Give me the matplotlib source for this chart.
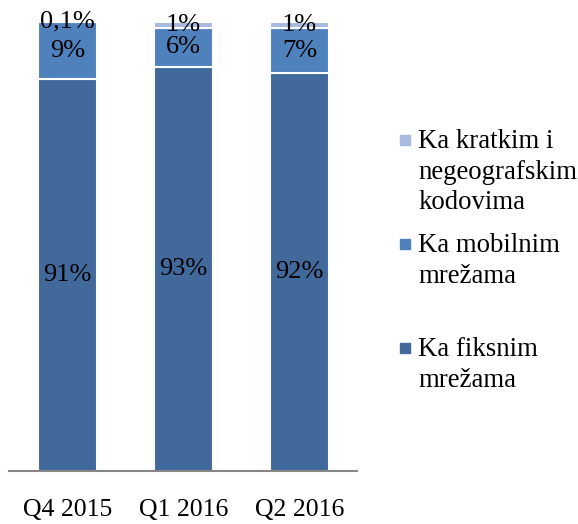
import numpy as np
import matplotlib
matplotlib.use("Agg")
from matplotlib import pyplot as plt
from matplotlib.patches import Rectangle

# podaci
kvartali = ["Q4 2015", "Q1 2016", "Q2 2016"]
fiksne = [91, 93, 92]
mobilne = [9, 6, 7]
kratki = [0.1, 1, 1]
nazivi = ["Ka fiksnim\nmrežama", "Ka mobilnim\nmrežama", "Ka kratkim i\nnegeografskim\nkodovima"]
boje = ["#41699C", "#4F81BD", "#A8BADF"]

plt.rcParams["font.family"] = ["Liberation Serif", "DejaVu Serif"]

fig = plt.figure(figsize=(5.78, 5.24), dpi=100)
ax = fig.add_axes([9 / 578, 1 - 471 / 524, 348 / 578, 450 / 524])

x = np.arange(len(kvartali))
y0 = 30
serije = [fiksne, mobilne, kratki]
dno = np.zeros(len(kvartali))
for vrijednosti, boja in zip(serije, boje):
    v = np.array(vrijednosti, dtype=float)
    ax.bar(x, v, 0.51, bottom=dno, color=boja, edgecolor="white", linewidth=1.5)
    for xi, b, h in zip(x, dno, v):
        tekst = ("%g%%" % h).replace(".", ",")
        yc = (max(b, y0) + b + h) / 2
        ax.text(xi, yc, tekst, ha="center", va="center", fontsize=19, color="black")
    dno += v

ax.set_xlim(-0.506, 2.494)
ax.set_ylim(y0, 100.1)
ax.set_yticks([])
ax.set_xticks(x)
ax.set_xticklabels(kvartali, fontsize=18.5)
ax.tick_params(axis="x", length=0, pad=20)
for s in ["top", "right", "left"]:
    ax.spines[s].set_visible(False)
ax.spines["bottom"].set_color("#868686")
ax.spines["bottom"].set_linewidth(1.5)

# legenda (obrnuti redoslijed)
vrhovi = [129, 233, 337]
for i, (naziv, boja) in enumerate(zip(nazivi[::-1], boje[::-1])):
    ytop = 1 - vrhovi[i] / 524
    fig.text(418 / 578, ytop, naziv, ha="left", va="top", fontsize=19.3, linespacing=1.3)
    yc = 1 - (vrhovi[i] + 11) / 524
    fig.patches.append(Rectangle((400 / 578, yc - 5 / 524), 10 / 578, 10 / 524,
                                 transform=fig.transFigure, color=boja, figure=fig))

fig.savefig("out.png", dpi=100)
